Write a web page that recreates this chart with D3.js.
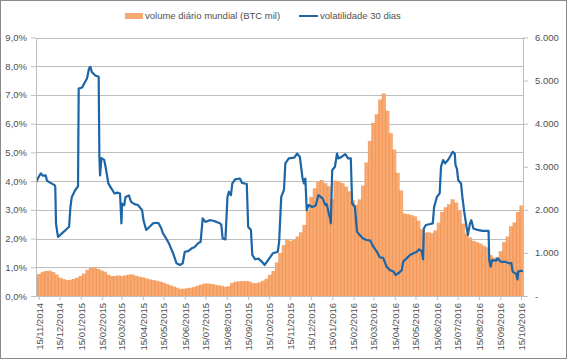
<!DOCTYPE html>
<html>
<head>
<meta charset="utf-8">
<script src="https://cdn.jsdelivr.net/npm/d3@7"></script>
<style>
  body { margin: 0; background: #fff; }
  svg { display: block; font-family: "Liberation Sans", Arial, sans-serif; }
</style>
</head>
<body>
<div id="chart"></div>
<script>
// volatilidade 30 dias (fração)
const volDates = ["11/11/2014","15/11/2014","18/11/2014","21/11/2014","25/11/2014","27/11/2014","02/12/2014","08/12/2014","09/12/2014","10/12/2014",
  "12/12/2014","13/12/2014","15/12/2014","19/12/2014","24/12/2014","29/12/2014","31/12/2014","02/01/2015","07/01/2015","11/01/2015",
  "12/01/2015","17/01/2015","20/01/2015","24/01/2015","27/01/2015","29/01/2015","31/01/2015","05/02/2015","10/02/2015","11/02/2015",
  "12/02/2015","14/02/2015","18/02/2015","20/02/2015","24/02/2015","27/02/2015","05/03/2015","09/03/2015","13/03/2015","15/03/2015",
  "16/03/2015","19/03/2015","21/03/2015","26/03/2015","29/03/2015","03/04/2015","08/04/2015","14/04/2015","16/04/2015","20/04/2015",
  "25/04/2015","30/04/2015","05/05/2015","08/05/2015","12/05/2015","14/05/2015","19/05/2015","23/05/2015","27/05/2015","29/05/2015",
  "03/06/2015","08/06/2015","12/06/2015","15/06/2015","20/06/2015","25/06/2015","29/06/2015","04/07/2015","08/07/2015","11/07/2015",
  "15/07/2015","21/07/2015","26/07/2015","31/07/2015","05/08/2015","07/08/2015","09/08/2015","13/08/2015","16/08/2015","18/08/2015",
  "21/08/2015","23/08/2015","27/08/2015","03/09/2015","06/09/2015","13/09/2015","15/09/2015","19/09/2015","21/09/2015","25/09/2015",
  "30/09/2015","05/10/2015","09/10/2015","14/10/2015","21/10/2015","28/10/2015","30/10/2015","02/11/2015","06/11/2015","08/11/2015",
  "13/11/2015","21/11/2015","25/11/2015","29/11/2015","03/12/2015","05/12/2015","07/12/2015","09/12/2015","12/12/2015","17/12/2015",
  "22/12/2015","26/12/2015","01/01/2016","05/01/2016","07/01/2016","10/01/2016","12/01/2016","13/01/2016","15/01/2016","19/01/2016",
  "22/01/2016","24/01/2016","29/01/2016","03/02/2016","07/02/2016","11/02/2016","13/02/2016","17/02/2016","20/02/2016","24/02/2016",
  "29/02/2016","05/03/2016","10/03/2016","15/03/2016","20/03/2016","24/03/2016","29/03/2016","03/04/2016","08/04/2016","13/04/2016",
  "16/04/2016","21/04/2016","25/04/2016","27/04/2016","02/05/2016","07/05/2016","12/05/2016","17/05/2016","20/05/2016","24/05/2016",
  "26/05/2016","27/05/2016","30/05/2016","04/06/2016","09/06/2016","11/06/2016","15/06/2016","19/06/2016","21/06/2016","24/06/2016",
  "27/06/2016","01/07/2016","04/07/2016","08/07/2016","11/07/2016","12/07/2016","14/07/2016","16/07/2016","20/07/2016","22/07/2016",
  "25/07/2016","28/07/2016","30/07/2016","02/08/2016","04/08/2016","07/08/2016","13/08/2016","20/08/2016","29/08/2016","30/08/2016",
  "01/09/2016","03/09/2016","09/09/2016","11/09/2016","16/09/2016","22/09/2016","28/09/2016","01/10/2016","03/10/2016","08/10/2016",
  "10/10/2016","11/10/2016","15/10/2016","18/10/2016"];
const volValues = [3.95,4.15,4.27,4.19,4.2,4.01,3.94,3.86,3.8,2.53,
  2.2,2.06,2.1,2.19,2.3,2.41,3.1,3.45,3.69,3.82,
  7.22,7.26,7.4,7.57,7.92,7.98,7.8,7.68,7.63,4.85,
  4.2,4.8,4.74,4.5,3.92,3.8,3.57,3.6,3.57,2.53,
  3.22,3.16,3.45,3.5,3.28,3.2,3.17,2.99,2.64,2.3,
  2.41,2.53,2.55,2.53,2.35,2.2,2.0,1.83,1.6,1.49,
  1.14,1.08,1.14,1.54,1.56,1.66,1.7,1.83,1.89,2.7,
  2.58,2.64,2.62,2.58,2.53,2.48,2.0,1.97,3.45,3.63,
  3.51,3.92,4.06,4.09,3.94,3.9,2.41,2.3,1.43,1.28,
  1.3,1.19,1.08,1.25,1.49,1.54,1.89,3.45,3.69,4.62,
  4.79,4.82,4.96,4.85,4.09,3.92,4.09,2.99,3.17,3.1,
  3.15,3.51,3.4,3.17,3.2,2.88,2.7,2.53,4.38,4.5,
  4.96,4.79,4.85,4.94,4.79,4.79,3.22,3.1,2.24,2.12,
  2.0,1.95,1.94,1.71,1.54,1.35,1.33,1.02,0.9,0.85,
  0.73,0.81,0.9,1.19,1.31,1.43,1.49,1.54,1.62,1.57,
  1.28,2.35,2.47,2.5,2.53,3.1,3.45,3.57,4.5,4.73,
  4.62,4.73,4.85,5.02,4.95,4.56,4.44,4.03,3.92,3.45,
  2.88,2.41,2.12,2.53,2.64,2.35,2.3,2.27,2.27,1.25,
  1.02,1.25,1.23,1.31,1.19,1.19,1.14,1.15,0.85,0.77,
  0.58,0.85,0.88,0.87].map(v => v / 100);

// volume diário mundial (BTC mil), a cada 5 dias desde 11/11/2014
const volumeStart = "11/11/2014";
const volumeStepDays = 5;
const volumeValues = [447,510,560,580,586,555,500,425,395,370,
  375,395,425,465,520,610,655,660,630,595,
  565,495,465,463,478,463,478,494,500,470,
  450,435,410,388,370,355,335,312,280,250,
  220,195,162,168,182,192,212,240,265,290,
  288,280,262,250,236,215,225,300,332,340,
  347,345,338,300,296,318,355,400,490,580,
  780,1000,1180,1310,1280,1300,1380,1480,1650,1990,
  2300,2500,2650,2690,2620,2550,2250,2680,2660,2620,
  2540,2430,2220,2120,2240,2560,3100,3600,4020,4220,
  4560,4700,4300,3780,3400,2860,2450,1915,1900,1876,
  1850,1750,1550,1470,1480,1460,1520,1700,1950,2060,
  2130,2245,2170,1980,1680,1450,1360,1280,1250,1220,
  1170,1130,950,890,900,1040,1250,1380,1620,1710,
  1950,2100];

const xDomain = ["11/11/2014", "18/10/2016"];
const leftTicks = [0,0.01,0.02,0.03,0.04,0.05,0.06,0.07,0.08,0.09];
const rightTicks = [0,1000,2000,3000,4000,5000,6000];
const monthTicks = ["15/11/2014","15/12/2014","15/01/2015","15/02/2015","15/03/2015","15/04/2015","15/05/2015","15/06/2015",
  "15/07/2015","15/08/2015","15/09/2015","15/10/2015","15/11/2015","15/12/2015","15/01/2016","15/02/2016","15/03/2016",
  "15/04/2016","15/05/2016","15/06/2016","15/07/2016","15/08/2016","15/09/2016","15/10/2016"];
const legendLabels = ["volume diário mundial (BTC mil)", "volatilidade 30 dias"];

const W = 567, H = 359;
const plot = {left: 36, right: 523, top: 37.5, bottom: 296};
const orange = "#F8AA72", orangeDark = "#EE8946", blue = "#1C65A6";
const labelColor = "#505050", axisColor = "#BFBFBF";

const parse = d3.timeParse("%d/%m/%Y");
const fmt = d3.timeFormat("%d/%m/%Y");
const locale = d3.formatLocale({decimal: ",", thousands: ".", grouping: [3], currency: ["", ""]});
const pct = locale.format(".1%");
const num = locale.format(",.0f");

const volData = volDates.map((d, i) => ({date: parse(d), value: volValues[i]}));
const start = parse(volumeStart);
const volumeData = volumeValues.map((v, i) => ({date: d3.timeDay.offset(start, i * volumeStepDays), value: v}));

const svg = d3.select("#chart").append("svg")
    .attr("width", W)
    .attr("height", H);

svg.append("rect")
    .attr("x", 0.5).attr("y", 0.5)
    .attr("width", W - 1).attr("height", H - 1)
    .attr("fill", "#fff")
    .attr("stroke", "#8A8A8A");

const x = d3.scaleTime()
    .domain(xDomain.map(parse))
    .range([plot.left, plot.right]);
const yL = d3.scaleLinear().domain([0, 0.09]).range([plot.bottom, plot.top]);
const yR = d3.scaleLinear().domain([0, 6000]).range([plot.bottom, plot.top]);

svg.append("clipPath").attr("id", "clip")
  .append("rect")
    .attr("x", plot.left).attr("y", plot.top)
    .attr("width", plot.right - plot.left).attr("height", plot.bottom - plot.top);

// gridlines
svg.append("g").selectAll("line")
    .data(leftTicks.slice(1))
    .enter().append("line")
      .attr("x1", plot.left).attr("x2", plot.right)
      .attr("y1", d => Math.round(yL(d)) + 0.5)
      .attr("y2", d => Math.round(yL(d)) + 0.5)
      .attr("stroke", "#BDBDBD");

// volume columns: fill plus a thin darker edge on each column
const bw = x(d3.timeDay.offset(start, volumeStepDays)) - x(start);
const cols = svg.append("g").attr("clip-path", "url(#clip)");
cols.selectAll("rect")
    .data(volumeData)
    .enter().append("rect")
      .attr("x", d => x(d.date) - bw / 2)
      .attr("width", bw + 0.4)
      .attr("y", d => yR(d.value))
      .attr("height", d => plot.bottom - yR(d.value))
      .attr("fill", orange);
cols.selectAll("line")
    .data(volumeData)
    .enter().append("line")
      .attr("x1", d => x(d.date) - bw / 2)
      .attr("x2", d => x(d.date) - bw / 2)
      .attr("y1", d => yR(d.value))
      .attr("y2", plot.bottom)
      .attr("stroke", orangeDark)
      .attr("stroke-width", 0.7);

// volatility line
const line = d3.line()
    .x(d => x(d.date))
    .y(d => yL(d.value));
svg.append("path")
    .datum(volData)
    .attr("clip-path", "url(#clip)")
    .attr("d", line)
    .attr("fill", "none")
    .attr("stroke", blue)
    .attr("stroke-width", 2.2)
    .attr("stroke-linejoin", "round");

// axes
function styleAxis(g) {
    g.select(".domain").attr("stroke", axisColor);
    g.selectAll(".tick line").attr("stroke", axisColor);
    g.selectAll(".tick text").attr("fill", labelColor).style("font-size", "9.5px");
}

svg.append("g")
    .attr("transform", `translate(${plot.left},0)`)
    .call(d3.axisLeft(yL).tickValues(leftTicks).tickFormat(pct).tickSize(5).tickSizeOuter(0).tickPadding(4))
    .call(styleAxis);

svg.append("g")
    .attr("transform", `translate(${plot.right},0)`)
    .call(d3.axisRight(yR).tickValues(rightTicks).tickFormat(d => d === 0 ? "-" : num(d)).tickSize(5).tickSizeOuter(0).tickPadding(7))
    .call(styleAxis);

const xAxis = svg.append("g")
    .attr("transform", `translate(0,${plot.bottom})`)
    .call(d3.axisBottom(x).tickValues(monthTicks.map(parse)).tickFormat(fmt).tickSize(4).tickSizeOuter(0))
    .call(styleAxis);
xAxis.selectAll(".tick text")
    .attr("transform", "rotate(-90)")
    .attr("x", -7)
    .attr("y", 0)
    .attr("dy", "0.35em")
    .attr("text-anchor", "end");

// legend
const legend = svg.append("g").style("font-size", "9.5px");
legend.append("rect")
    .attr("x", 125).attr("y", 13).attr("width", 18).attr("height", 6)
    .attr("fill", orange);
legend.append("text")
    .attr("x", 145).attr("y", 16).attr("dy", "0.35em")
    .attr("fill", labelColor)
    .text(legendLabels[0]);
legend.append("line")
    .attr("x1", 299).attr("x2", 318).attr("y1", 16).attr("y2", 16)
    .attr("stroke", blue).attr("stroke-width", 2);
legend.append("text")
    .attr("x", 320).attr("y", 16).attr("dy", "0.35em")
    .attr("fill", labelColor)
    .text(legendLabels[1]);
</script>
</body>
</html>
